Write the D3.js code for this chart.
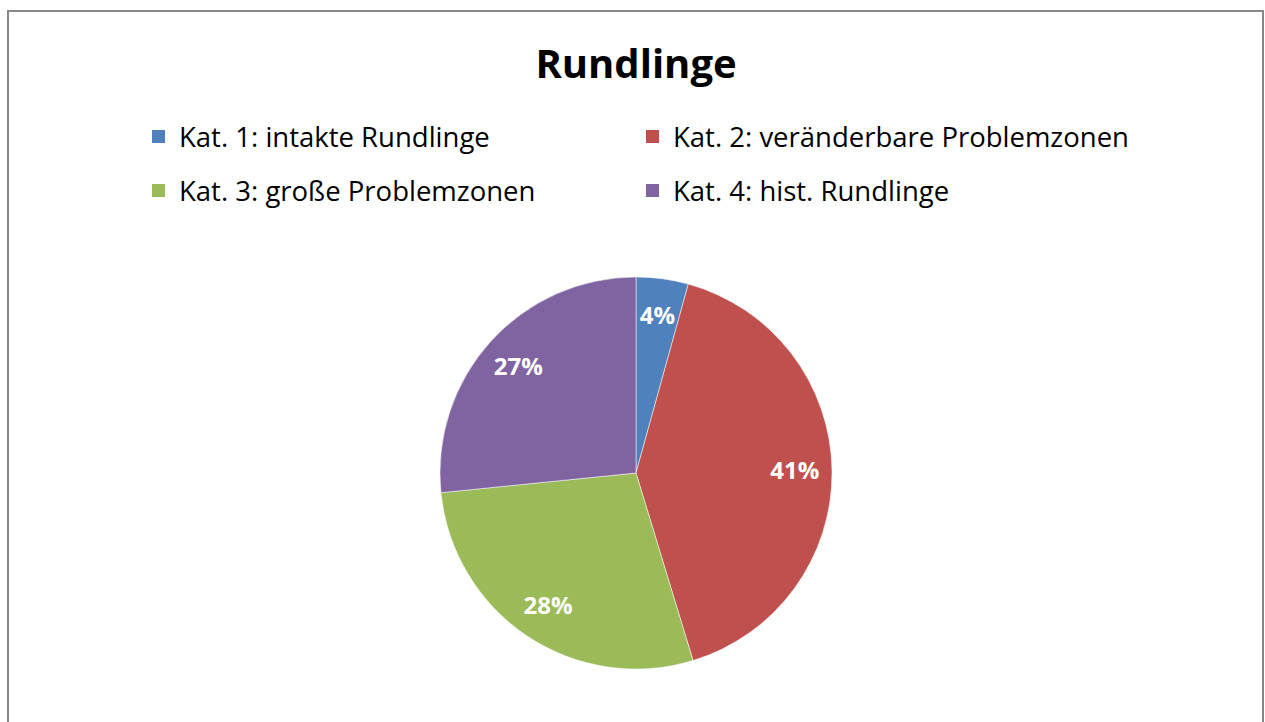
<!DOCTYPE html>
<html>
<head>
<meta charset="utf-8">
<script src="https://cdn.jsdelivr.net/npm/d3@7"></script>
<style>
  body { margin: 0; background: #fff; }
  svg { display: block; font-family: "Open Sans", sans-serif; }
</style>
</head>
<body>
<div id="chart"></div>
<script>
const categories = [
  "Kat. 1: intakte Rundlinge",
  "Kat. 2: veränderbare Problemzonen",
  "Kat. 3: große Problemzonen",
  "Kat. 4: hist. Rundlinge"
];
const values = [4.3, 41.0, 28.1, 26.6];
const labels = ["4%", "41%", "28%", "27%"];
const colors = ["#4F81BD", "#C0504D", "#9BBB59", "#8064A2"];

const W = 1265, H = 722;
const svg = d3.select("#chart").append("svg")
  .attr("width", W).attr("height", H);

// chart area frame
svg.append("rect")
  .attr("x", 8).attr("y", 11)
  .attr("width", 1255).attr("height", 730)
  .attr("fill", "#fff")
  .attr("stroke", "#888").attr("stroke-width", 2);

// title
svg.append("text")
  .attr("x", 636).attr("y", 78)
  .attr("text-anchor", "middle")
  .style("font-size", "40px").style("font-weight", "700")
  .text("Rundlinge");

// legend (2 columns x 2 rows)
const legendPos = [[152, 137], [646, 137], [152, 191], [646, 191]];
categories.forEach((c, i) => {
  const [lx, ly] = legendPos[i];
  svg.append("rect")
    .attr("x", lx).attr("y", ly - 7)
    .attr("width", 13).attr("height", 13)
    .attr("fill", colors[i]);
  svg.append("text")
    .attr("x", lx + 27).attr("y", ly)
    .attr("dy", "0.35em")
    .style("font-size", "27.5px")
    .attr("fill", "#000")
    .text(c);
});

// pie
const cx = 636, cy = 473, R = 196;
const pie = d3.pie().sort(null).value(d => d)(values);
const arc = d3.arc().innerRadius(0).outerRadius(R);
const labelArc = d3.arc().innerRadius(R * 0.81).outerRadius(R * 0.81);

const g = svg.append("g").attr("transform", `translate(${cx},${cy})`);
g.selectAll("path.slice")
  .data(pie)
  .enter().append("path")
    .attr("class", "slice")
    .attr("d", arc)
    .attr("fill", (d, i) => colors[i])
    .attr("stroke", "rgba(255,255,255,0.5)")
    .attr("stroke-width", 1);

g.selectAll("text.lbl")
  .data(pie)
  .enter().append("text")
    .attr("class", "lbl")
    .attr("transform", d => `translate(${labelArc.centroid(d)})`)
    .attr("text-anchor", "middle")
    .attr("dy", "0.35em")
    .attr("fill", "#fff")
    .style("font-size", "24px").style("font-weight", "700")
    .text((d, i) => labels[i]);
</script>
</body>
</html>
